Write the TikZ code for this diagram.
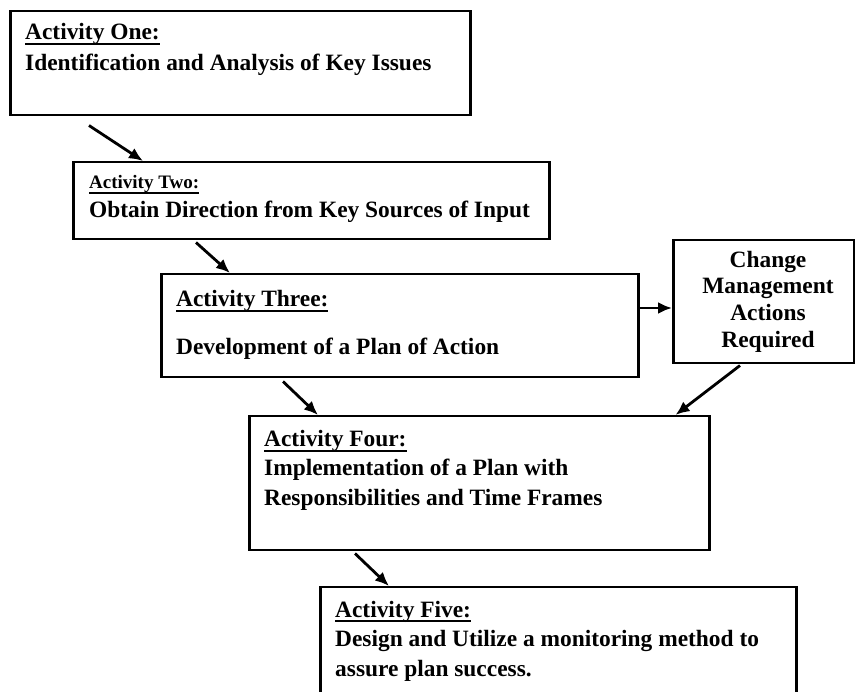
\documentclass[tikz,border=0pt]{standalone}
\usepackage{fontspec}
\setmainfont{Liberation Serif}
\usetikzlibrary{arrows.meta}
\newcommand\uline[1]{\leavevmode\setbox0\hbox{#1}\rlap{\vrule width\wd0 height -2.6pt depth 4.6pt}\box0}
\tikzset{
  box/.style={draw=black, line width=2.5pt, rectangle, inner sep=0pt, anchor=north west},
  txt/.style={inner sep=0pt, anchor=base west, font=\bfseries\fontsize{23.4}{28}\selectfont},
  txtc/.style={inner sep=0pt, anchor=base, font=\bfseries\fontsize{23.4}{28}\selectfont},
  small/.style={font=\bfseries\fontsize{19}{24}\selectfont},
  arr/.style={line width=2.8pt, -{Latex[length=14pt,width=12pt]}}
}
\begin{document}
\begin{tikzpicture}[x=1pt,y=-1pt]
\useasboundingbox (0,0) rectangle (855,692);
\clip (0,0) rectangle (855,692);
% boxes
\node[box, minimum width=460pt, minimum height=104pt] (b1) at (9,10) {};
\node[box, minimum width=476pt, minimum height=77pt] (b2) at (72,161) {};
\node[box, minimum width=477pt, minimum height=103pt] (b3) at (160,273) {};
\node[box, minimum width=181pt, minimum height=123pt] (cm) at (672,239) {};
\node[box, minimum width=460pt, minimum height=134pt] (b4) at (248,415) {};
\node[box, minimum width=476pt, minimum height=130pt] (b5) at (319,586) {};
% texts
\node[txt] (t1a) at (25,40) {\uline{Activity One:}};
\node[txt] (t1b) at (25,71) {Identification and Analysis of Key Issues};
\node[txt, small] (t2a) at (89,189) {\uline{Activity Two:}};
\node[txt] (t2b) at (89,218) {Obtain Direction from Key Sources of Input};
\node[txt] (t3a) at (176,307) {\uline{Activity Three:}};
\node[txt] (t3b) at (176,355) {Development of a Plan of Action};
\node[txtc] (c1) at (768,268) {Change};
\node[txtc] (c2) at (768,294) {Management};
\node[txtc] (c3) at (768,321) {Actions};
\node[txtc] (c4) at (768,348) {Required};
\node[txt] (t4a) at (264,447) {\uline{Activity Four:}};
\node[txt] (t4b) at (264,476) {Implementation of a Plan with};
\node[txt] (t4c) at (264,506) {Responsibilities and Time Frames};
\node[txt] (t5a) at (335,617) {\uline{Activity Five:}};
\node[txt] (t5b) at (335,646) {Design and Utilize a monitoring method to};
\node[txt] (t5c) at (335,677) {assure plan success.};
% connectors
\coordinate (a1s) at ([shift={(80,9)}]b1.south west);
\draw[arr] (a1s) -- ([shift={(71,0)}]b2.north west);
\coordinate (a2s) at ([shift={(124,2)}]b2.south west);
\draw[arr] (a2s) -- ([shift={(70,0)}]b3.north west);
\coordinate (a3s) at ([shift={(0,35)}]b3.north east);
\draw[arr] (a3s) -- (a3s -| cm.west);
\coordinate (a4s) at ([shift={(123,3)}]b3.south west);
\draw[arr] (a4s) -- ([shift={(70,0)}]b4.north west);
\coordinate (a5s) at ([shift={(68,1)}]cm.south west);
\draw[arr] (a5s) -- ([shift={(-35,0)}]b4.north east);
\coordinate (a6s) at ([shift={(107,2)}]b4.south west);
\draw[arr] (a6s) -- ([shift={(70,0)}]b5.north west);
\end{tikzpicture}
\end{document}
